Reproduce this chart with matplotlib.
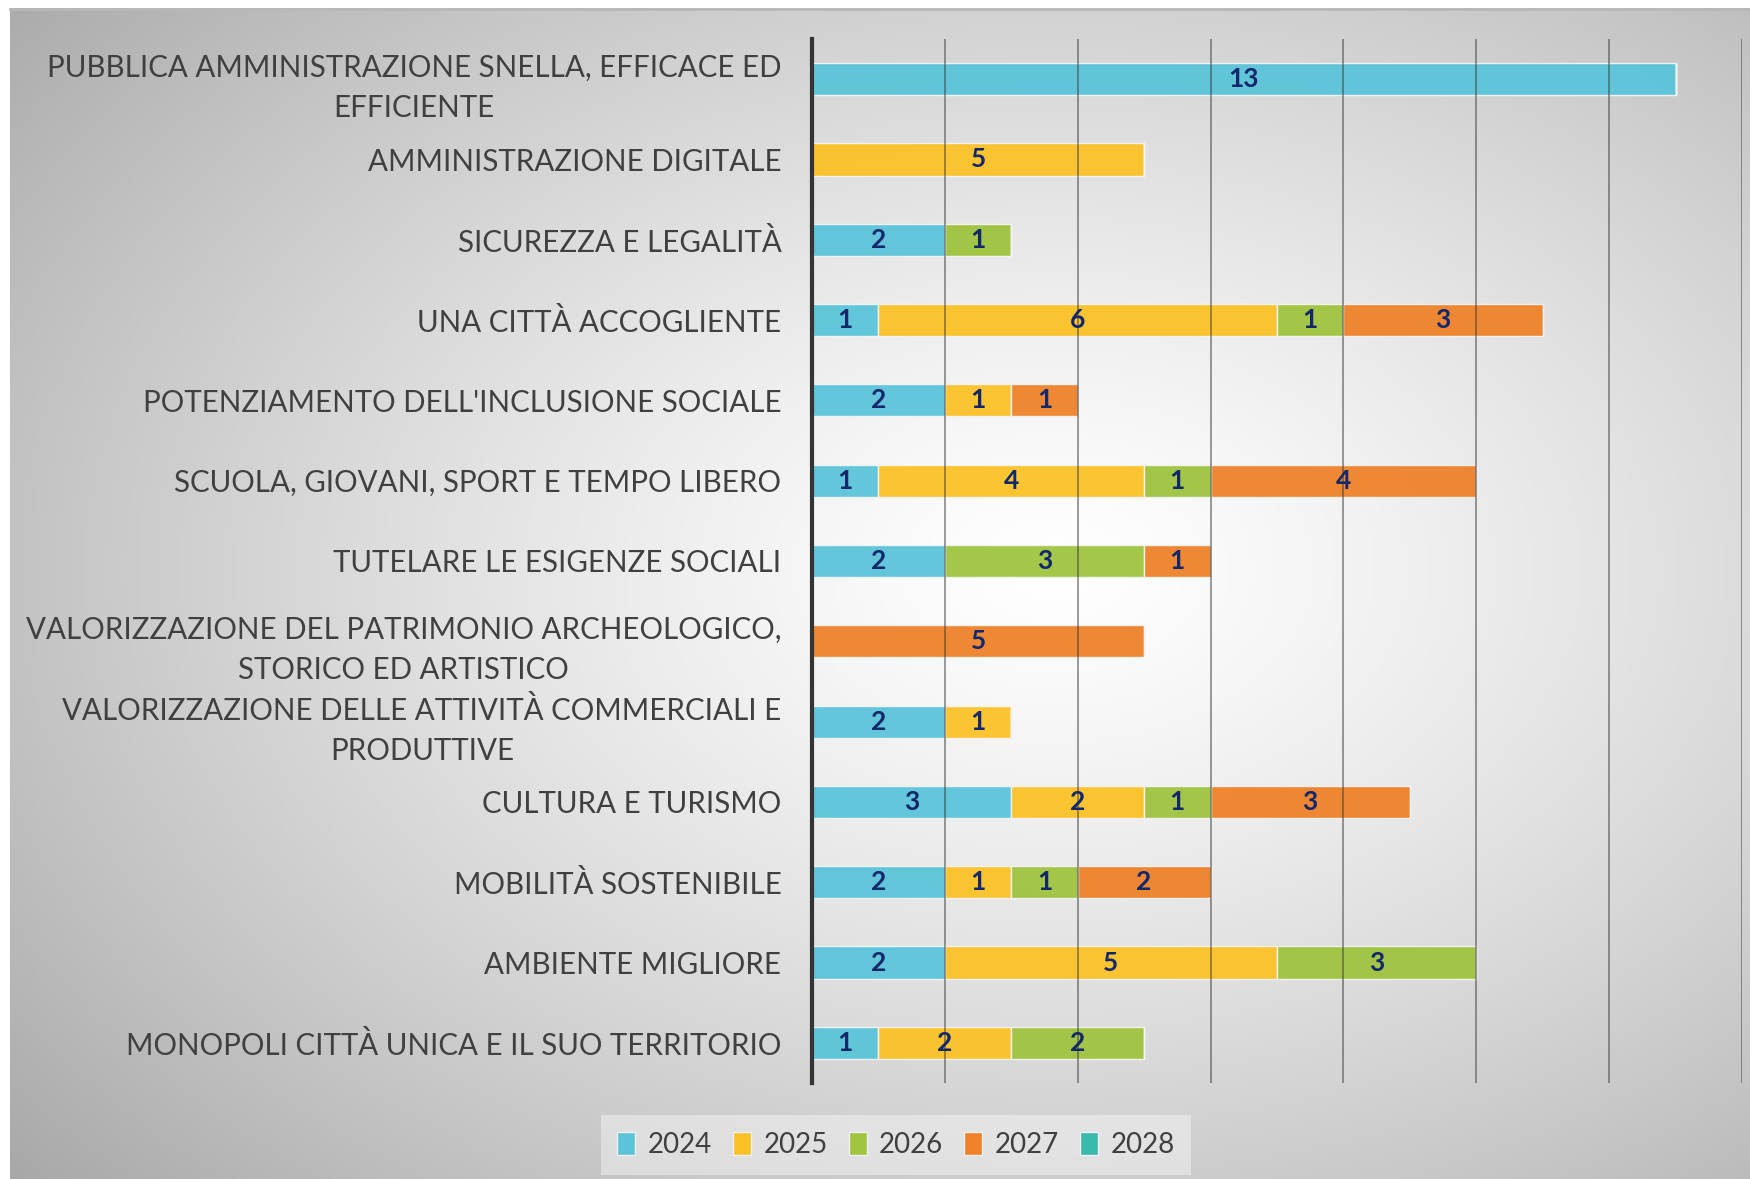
import numpy as np
import matplotlib
matplotlib.use("Agg")
import matplotlib.pyplot as plt
from matplotlib.patches import Patch

plt.rcParams['font.family'] = ['Lato', 'DejaVu Sans']

# Categories (top to bottom) and counts per year
categories = [
    "PUBBLICA AMMINISTRAZIONE SNELLA, EFFICACE ED\nEFFICIENTE",
    "AMMINISTRAZIONE DIGITALE",
    "SICUREZZA E LEGALITÀ",
    "UNA CITTÀ ACCOGLIENTE",
    "POTENZIAMENTO DELL'INCLUSIONE SOCIALE",
    "SCUOLA, GIOVANI, SPORT E TEMPO LIBERO",
    "TUTELARE LE ESIGENZE SOCIALI",
    "VALORIZZAZIONE DEL PATRIMONIO ARCHEOLOGICO,\nSTORICO ED ARTISTICO",
    "VALORIZZAZIONE DELLE ATTIVITÀ COMMERCIALI E\nPRODUTTIVE",
    "CULTURA E TURISMO",
    "MOBILITÀ SOSTENIBILE",
    "AMBIENTE MIGLIORE",
    "MONOPOLI CITTÀ UNICA E IL SUO TERRITORIO",
]
years = ["2024", "2025", "2026", "2027", "2028"]
v2024 = [13, 0, 2, 1, 2, 1, 2, 0, 2, 3, 2, 2, 1]
v2025 = [0, 5, 0, 6, 1, 4, 0, 0, 1, 2, 1, 5, 2]
v2026 = [0, 0, 1, 1, 0, 1, 3, 0, 0, 1, 1, 3, 2]
v2027 = [0, 0, 0, 3, 1, 4, 1, 5, 0, 3, 2, 0, 0]
v2028 = [0, 0, 0, 0, 0, 0, 0, 0, 0, 0, 0, 0, 0]
series = [v2024, v2025, v2026, v2027, v2028]
colors = ["#5BC4D9", "#FBC227", "#9FC43F", "#EF822A", "#3ABAAA"]

W, H = 1750, 1179
fig = plt.figure(figsize=(W / 100, H / 100), dpi=100)

# gradient background of the chart area
bg = fig.add_axes([10 / W, 0, 1 - 10 / W, 1 - 8 / H], zorder=-10)
gx, gy = np.meshgrid(np.linspace(0, 1, 400), np.linspace(0, 1, 300))
r = np.sqrt(((gx - 0.6) / 0.72) ** 2 + ((gy - 0.48) / 0.72) ** 2)
val = np.clip(1 - 0.3 * r ** 1.3, 0, 1)
bg.imshow(np.dstack([val, val, val]), aspect="auto", extent=[0, 1, 1, 0])
bg.set_xlim(0, 1)
bg.set_ylim(1, 0)
bg.axis("off")
fig.add_artist(plt.Line2D([10 / W, 1], [1 - 9 / H, 1 - 9 / H], color="#b8b8b8", lw=2))

ax = fig.add_axes([812 / W, 1 - 1083 / H, (1742 - 812) / W, (1083 - 39) / H])
ax.set_facecolor("none")

y = np.arange(len(categories))
left = np.zeros(len(categories))
for vals, col, yr in zip(series, colors, years):
    vals = np.array(vals)
    bars = ax.barh(y, vals, left=left, height=0.4, color=col,
                   edgecolor="#f4f4f4", linewidth=1, alpha=0.95, label=yr)
    labels = [str(v) if v > 0 else "" for v in vals]
    ax.bar_label(bars, labels=labels, label_type="center", color="#12286B",
                 fontsize=19, fontweight="bold", zorder=4)
    left += vals

ax.set_xlim(0, 14)
ax.set_ylim(len(categories) - 0.5, -0.5)
ax.set_xticks(range(0, 15, 2))
ax.set_xticklabels([])
ax.tick_params(axis="x", length=0)
ax.set_axisbelow(False)
ax.xaxis.grid(True, color="#3a3a3a", alpha=0.5, linewidth=1.4)

ax.set_yticks(y)
ax.set_yticklabels(categories, fontsize=21.25, color="#404040")
for t in ax.get_yticklabels():
    t.set_multialignment("center")
    t.set_linespacing(1.53)
ax.tick_params(axis="y", length=0, pad=22)

for s in ["top", "right", "bottom"]:
    ax.spines[s].set_visible(False)
ax.spines["left"].set_color("#333333")
ax.spines["left"].set_linewidth(3)

handles = [Patch(facecolor=c, edgecolor="#f0f0f0", label=yr) for c, yr in zip(colors, years)]
leg = fig.legend(handles=handles, loc="center", bbox_to_anchor=(896 / W, 1 - 1145 / H),
                 ncol=5, fontsize=20, frameon=True, handlelength=0.65, handleheight=0.9,
                 handletextpad=0.45, columnspacing=0.75, borderpad=0.6)
leg.get_frame().set_facecolor("white")
leg.get_frame().set_alpha(0.4)
leg.get_frame().set_edgecolor("none")
leg.get_frame().set_boxstyle("square", pad=0)
for t in leg.get_texts():
    t.set_color("#404040")

fig.savefig("out.png", dpi=100)
